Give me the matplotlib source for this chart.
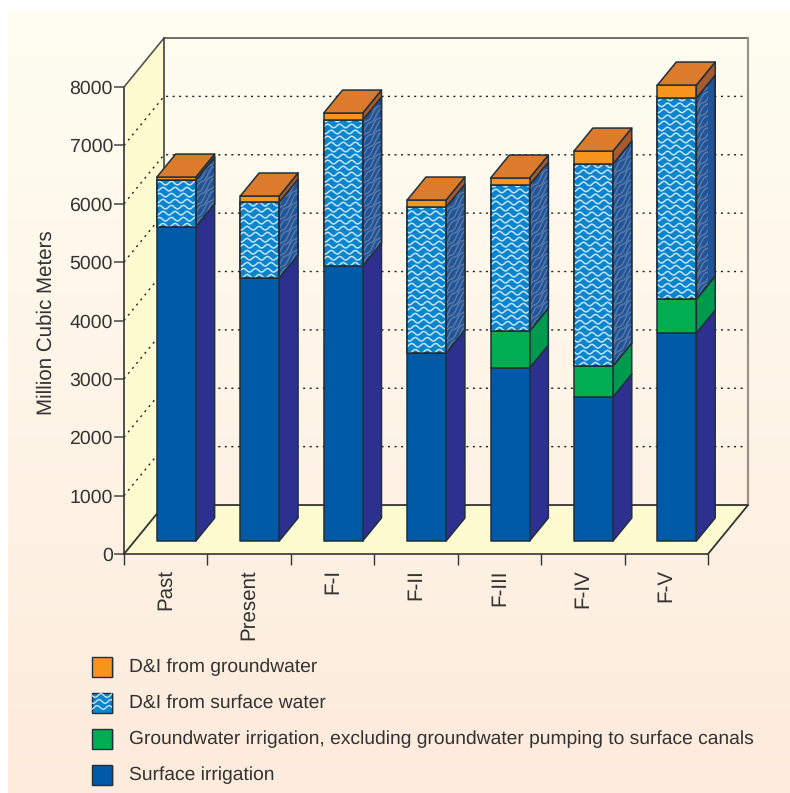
import matplotlib
matplotlib.use('Agg')
import matplotlib.pyplot as plt
from matplotlib.patches import Polygon, Rectangle
import numpy as np

plt.rcParams['font.family'] = ['Liberation Sans', 'DejaVu Sans']
plt.rcParams['text.hinting'] = 'no_hinting'

categories = ['Past', 'Present', 'F-I', 'F-II', 'F-III', 'F-IV', 'F-V']
surface_irrigation = [5380, 4505, 4711, 3220, 2963, 2467, 3563]
groundwater_irrigation = [0, 0, 0, 0, 634, 531, 582]
di_surface = [804, 1302, 2500, 2501, 2501, 3460, 3443]
di_groundwater = [51, 103, 120, 120, 120, 222, 223]
legend_labels = ['D&I from groundwater', 'D&I from surface water',
                 'Groundwater irrigation, excluding groundwater pumping to surface canals',
                 'Surface irrigation']
y_ticks = [0, 1000, 2000, 3000, 4000, 5000, 6000, 7000, 8000]

# oblique offset of the back wall, in axis units
DX = 0.48
DY = 839
BAR_W = 0.467
D0, D1 = 0.265, 0.735
WAVE_STEP = 103
EDGE = '#20303c'
TEXT = '#333333'

FRONT = {'surf': '#005aa8', 'gw': '#00ad50', 'di': '#0a84cc', 'dig': '#f7941d'}
SIDE = {'surf': '#2e3090', 'gw': '#009a4e', 'di': '#1f5598', 'dig': '#a85a2e'}
TOP_COLOR = '#db7b2b'


def proj(x, depth, v):
    return x + depth * DX, v + depth * DY


def waves(ax, patch, x0, x1, v0, v1, shear=0.0, color='#c4e4f7', lw=1.1):
    # wavy texture, clipped to the face it belongs to
    xs = np.linspace(x0, x1, 80)
    for i, base in enumerate(np.arange(v0 - 1000, v1 + WAVE_STEP, WAVE_STEP)):
        phase = (i % 2) * np.pi * 0.6
        ys = base + 30 * np.sin(xs / 0.072 * np.pi + phase) + shear * (xs - x0)
        ln, = ax.plot(xs, ys, color=color, lw=lw, zorder=patch.get_zorder(), clip_on=True)
        ln.set_clip_path(patch)


fig = plt.figure(figsize=(7.9, 7.93), dpi=100)

# page background in pixel coordinates
bg = fig.add_axes([0, 0, 1, 1])
bg.set_xlim(0, 790)
bg.set_ylim(793, 0)
bg.axis('off')
top_rgb = np.array([255, 254, 242]) / 255
bot_rgb = np.array([253, 235, 220]) / 255
grad = np.linspace(0, 1, 256)[:, None, None] * (bot_rgb - top_rgb) + top_rgb
bg.imshow(grad, extent=(8, 790, 793, 10), aspect='auto', zorder=0)
bg.set_xlim(0, 790)
bg.set_ylim(793, 0)

ax = fig.add_axes([124 / 790, 1 - 554 / 793, 584 / 790, 467 / 793])
ax.patch.set_alpha(0)
ax.set_xlim(0, 7)
ax.set_ylim(0, 8000)
for s in ['top', 'right']:
    ax.spines[s].set_visible(False)
for s in ['left', 'bottom']:
    ax.spines[s].set_color('#333333')
    ax.spines[s].set_linewidth(1.2)

# left wall and floor
wall = '#fffbd0'
ax.add_patch(Polygon([proj(0, 0, 0), proj(0, 1, 0), proj(0, 1, 8000), proj(0, 0, 8000)],
                     fc=wall, ec='none', zorder=1, clip_on=False))
ax.add_patch(Polygon([proj(0, 0, 0), proj(7, 0, 0), proj(7, 1, 0), proj(0, 1, 0)],
                     fc=wall, ec='none', zorder=1, clip_on=False))

# dotted grid on the walls
for v in y_ticks[1:-1]:
    xa, ya = proj(0, 0, v)
    xb, yb = proj(0, 1, v)
    xc, yc = proj(7, 1, v)
    ax.plot([xa, xb, xc], [ya, yb, yc], color='#222222', lw=1.0, dashes=(1.5, 3.2),
            zorder=2, clip_on=False)

# wall outlines
ax.plot(*zip(proj(0, 0, 8000), proj(0, 1, 8000), proj(7, 1, 8000)),
        color='#555555', lw=1.2, zorder=3, clip_on=False)
ax.plot(*zip(proj(7, 1, 8000), proj(7, 1, 0)), color='#9a9288', lw=1.6, zorder=3, clip_on=False)
ax.plot(*zip(proj(0, 1, 0), proj(0, 1, 8000)), color='#333333', lw=1.1, zorder=3, clip_on=False)
ax.plot(*zip(proj(0, 0, 0), proj(0, 1, 0), proj(7, 1, 0), proj(7, 0, 0)),
        color='#333333', lw=1.3, zorder=3, clip_on=False)

# stacked bars, drawn left to right
for i, cat in enumerate(categories):
    x0 = i + 0.5 - BAR_W / 2
    x1 = i + 0.5 + BAR_W / 2
    base = 0
    segs = [('surf', surface_irrigation[i]), ('gw', groundwater_irrigation[i]),
            ('di', di_surface[i]), ('dig', di_groundwater[i])]
    for key, val in segs:
        if val == 0:
            continue
        top = base + val
        front = Polygon([proj(x0, D0, base), proj(x1, D0, base), proj(x1, D0, top), proj(x0, D0, top)],
                        fc=FRONT[key], ec=EDGE, lw=1.1, zorder=5, clip_on=False, joinstyle='round')
        side = Polygon([proj(x1, D0, base), proj(x1, D1, base), proj(x1, D1, top), proj(x1, D0, top)],
                       fc=SIDE[key], ec=EDGE, lw=1.1, zorder=5, clip_on=False, joinstyle='round')
        ax.add_patch(side)
        ax.add_patch(front)
        if key == 'di':
            fx0, fb = proj(x0, D0, base)
            fx1, ft = proj(x1, D0, top)
            waves(ax, front, fx0, fx1, fb, ft)
            sx1, _ = proj(x1, D1, base)
            waves(ax, side, fx1, sx1, fb, ft + DY, shear=DY / DX, color='#5a77a6', lw=1.1)
            ax.add_patch(Polygon(front.get_xy(), fc='none', ec=EDGE, lw=1.1, zorder=5, clip_on=False))
            ax.add_patch(Polygon(side.get_xy(), fc='none', ec=EDGE, lw=1.1, zorder=5, clip_on=False))
        base = top
    ax.add_patch(Polygon([proj(x0, D0, base), proj(x1, D0, base), proj(x1, D1, base), proj(x0, D1, base)],
                         fc=TOP_COLOR, ec=EDGE, lw=1.1, zorder=6, clip_on=False, joinstyle='round'))

ax.set_yticks(y_ticks)
ax.set_yticklabels([str(v) for v in y_ticks], fontsize=14, color=TEXT)
ax.tick_params(axis='y', length=7, width=1.2, color='#555555', pad=1)
ax.set_xticks(range(8))
ax.set_xticklabels([])
ax.tick_params(axis='x', length=8, width=1.0, color='#333333')
ax.set_xticks([i + 0.5 for i in range(7)], minor=True)
ax.set_xticklabels(categories, minor=True, rotation=90, fontsize=14.8, color=TEXT)
ax.tick_params(axis='x', which='minor', length=0, pad=11)
ax.set_ylabel('Million Cubic Meters', fontsize=14.8, color=TEXT)
ax.yaxis.set_label_coords(-0.116, 0.495)

# legend, swatches in page pixels
rows = [657, 692.5, 728.5, 764.5]
keys = ['dig', 'di', 'gw', 'surf']
for lab, key, y in zip(legend_labels, keys, rows):
    bg.add_patch(Rectangle((93, y + 1), 21, 20, fc='#c9b8a6', ec='none', zorder=2))
    sw = Rectangle((92, y), 20, 20, fc=FRONT[key], ec=EDGE, lw=1.0, zorder=3)
    bg.add_patch(sw)
    if key == 'di':
        xs = np.linspace(92, 112, 40)
        for j, yy in enumerate(np.arange(y + 3, y + 20, 6)):
            ln, = bg.plot(xs, yy + 1.8 * np.sin((xs - 92) / 6 * np.pi + j), color='#c4e4f7', lw=1.0, zorder=3)
            ln.set_clip_path(sw)
    bg.text(129, y + 10.5, lab, fontsize=13.9, color=TEXT, va='center', ha='left')

bg.set_xlim(0, 790)
bg.set_ylim(793, 0)

fig.savefig('out.png', dpi=100)
